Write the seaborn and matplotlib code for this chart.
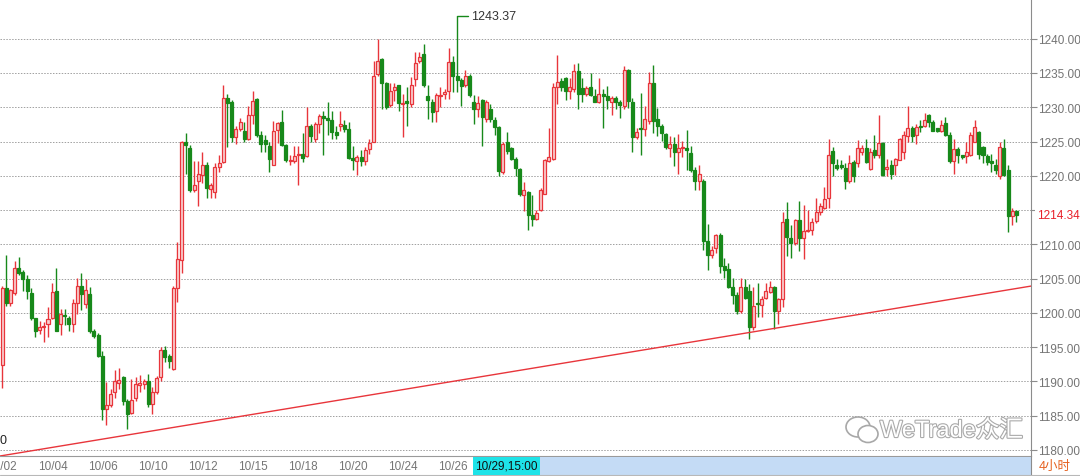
import numpy as np
import pandas as pd
import matplotlib
matplotlib.use("Agg")
import matplotlib.pyplot as plt
import matplotlib.patheffects as pe
from matplotlib.patches import Rectangle, Ellipse
from matplotlib.lines import Line2D
import matplotlib.transforms as mtransforms
import seaborn as sns

sns.set_style("white")
plt.rcParams['font.family'] = ['Liberation Sans', 'Noto Sans CJK SC', 'DejaVu Sans']

# 4h candles
opens = [
    1192.4, 1203.6, 1201.5, 1202.9, 1206.5, 1206.0, 1205.0, 1202.9, 1199.2, 1197.5,
    1197.9, 1198.3, 1199.2, 1203.2, 1198.3, 1199.7, 1199.3, 1198.3, 1201.5, 1203.9,
    1201.3, 1202.8, 1197.3, 1196.8, 1193.7, 1186.0, 1186.5, 1188.4, 1189.7, 1190.7,
    1187.2, 1185.4, 1187.5, 1189.4, 1189.6, 1190.1, 1186.7, 1188.4, 1190.6, 1194.5,
    1193.7, 1191.8, 1203.6, 1207.7, 1224.9, 1224.0, 1217.9, 1219.2, 1220.1, 1221.6,
    1218.0, 1217.7, 1221.3, 1222.0, 1231.3, 1230.8, 1225.6, 1226.8, 1226.6, 1225.4,
    1228.8, 1231.2, 1225.9, 1225.2, 1224.3, 1221.5, 1226.7, 1227.8, 1224.5, 1222.1,
    1222.2, 1223.0, 1223.2, 1222.9, 1227.3, 1225.4, 1227.6, 1228.7, 1228.4, 1228.2,
    1226.4, 1227.3, 1227.4, 1226.8, 1222.6, 1222.1, 1222.7, 1222.1, 1223.9, 1225.0,
    1234.8, 1237.1, 1233.5, 1230.3, 1232.5, 1233.2, 1230.5, 1230.9, 1230.5, 1234.1,
    1236.8, 1237.7, 1231.7, 1230.7, 1229.5, 1231.6, 1231.9, 1232.3, 1236.6, 1234.6,
    1234.0, 1233.2, 1234.6, 1230.7, 1229.8, 1231.0, 1228.3, 1229.8, 1228.2, 1227.1,
    1220.5, 1224.9, 1224.0, 1222.5, 1221.0, 1217.2, 1217.7, 1214.3, 1213.7, 1215.0,
    1217.3, 1222.2, 1222.5, 1233.0, 1233.9, 1234.2, 1232.4, 1232.7, 1235.3, 1232.8,
    1231.9, 1232.9, 1231.6, 1230.8, 1231.9, 1231.6, 1230.7, 1231.4, 1230.8, 1230.2,
    1235.4, 1230.8, 1225.6, 1227.0, 1226.8, 1228.0, 1233.6, 1228.3, 1227.2, 1226.1,
    1224.1, 1224.6, 1223.4, 1224.0, 1224.0, 1223.3, 1220.8, 1219.3, 1219.2, 1210.5,
    1208.4, 1209.5, 1211.4, 1206.8, 1206.4, 1203.8, 1202.6, 1200.3, 1203.7, 1203.2,
    1198.0, 1201.5, 1201.2, 1202.2, 1203.1, 1203.7, 1200.3, 1202.0, 1213.7, 1210.9,
    1210.2, 1213.6, 1210.9, 1211.9, 1212.1, 1213.4, 1214.7, 1215.3, 1216.8, 1223.6,
    1221.6, 1221.5, 1221.2, 1219.2, 1222.0, 1221.8, 1223.5, 1224.1, 1221.0, 1223.7,
    1223.0, 1224.8, 1221.0, 1221.6, 1221.5, 1222.3, 1223.5, 1225.8, 1227.0, 1225.9,
    1227.2, 1227.2, 1228.9, 1227.9, 1226.9, 1226.6, 1227.7, 1226.0, 1222.1, 1223.9,
    1223.0, 1222.9, 1223.0, 1225.0, 1226.4, 1224.2, 1222.9, 1222.1, 1221.6, 1219.9,
    1224.1, 1220.8, 1214.1, 1214.8,
]
highs = [
    1203.9, 1208.4, 1203.5, 1207.6, 1208.2, 1206.2, 1205.5, 1203.6, 1199.3, 1198.8,
    1198.6, 1200.8, 1204.4, 1206.6, 1200.5, 1200.5, 1199.5, 1202.0, 1205.1, 1205.8,
    1204.9, 1203.8, 1197.6, 1197.0, 1194.4, 1189.9, 1188.9, 1191.6, 1192.0, 1190.8,
    1187.4, 1190.4, 1190.7, 1190.9, 1190.3, 1191.0, 1189.1, 1190.8, 1195.0, 1195.1,
    1194.0, 1203.9, 1210.3, 1225.1, 1226.3, 1224.5, 1222.1, 1222.2, 1223.4, 1222.0,
    1219.0, 1221.8, 1223.0, 1233.2, 1231.9, 1231.0, 1227.3, 1228.5, 1227.8, 1230.2,
    1232.4, 1231.4, 1226.6, 1225.9, 1224.9, 1228.0, 1227.8, 1229.6, 1224.7, 1223.0,
    1224.3, 1224.4, 1226.3, 1230.1, 1227.6, 1227.8, 1229.0, 1229.5, 1230.8, 1229.5,
    1227.3, 1229.5, 1228.2, 1227.8, 1224.4, 1223.0, 1223.7, 1224.2, 1225.3, 1236.7,
    1239.9, 1237.2, 1233.7, 1233.5, 1233.6, 1233.3, 1231.9, 1233.0, 1234.4, 1238.0,
    1238.0, 1239.2, 1233.2, 1231.2, 1232.1, 1233.0, 1232.7, 1238.6, 1237.5, 1243.37,
    1234.3, 1235.5, 1234.8, 1231.8, 1231.6, 1231.2, 1231.0, 1230.5, 1228.6, 1227.3,
    1224.9, 1226.4, 1224.2, 1222.7, 1221.2, 1219.1, 1217.8, 1217.2, 1215.0, 1218.2,
    1222.5, 1226.9, 1233.5, 1237.6, 1234.2, 1234.4, 1234.3, 1236.3, 1236.4, 1234.3,
    1233.1, 1235.0, 1232.7, 1234.3, 1232.6, 1233.1, 1231.7, 1231.6, 1231.0, 1236.0,
    1235.6, 1231.4, 1227.0, 1232.1, 1230.2, 1235.1, 1236.2, 1229.9, 1227.5, 1226.3,
    1225.8, 1225.6, 1226.1, 1225.1, 1226.7, 1224.3, 1221.3, 1221.6, 1219.6, 1212.9,
    1209.7, 1211.5, 1211.6, 1208.0, 1207.3, 1205.1, 1203.0, 1205.1, 1205.0, 1204.2,
    1203.7, 1204.3, 1202.5, 1204.3, 1204.6, 1203.9, 1202.2, 1214.7, 1216.1, 1212.8,
    1213.7, 1216.3, 1215.7, 1215.0, 1213.8, 1216.7, 1216.0, 1218.3, 1225.3, 1224.2,
    1222.4, 1222.3, 1221.8, 1223.1, 1222.3, 1225.2, 1224.5, 1225.3, 1224.1, 1225.9,
    1228.8, 1224.9, 1222.5, 1222.3, 1222.6, 1225.5, 1226.5, 1230.2, 1227.2, 1227.6,
    1228.1, 1229.2, 1229.0, 1228.1, 1227.0, 1228.2, 1228.6, 1226.4, 1225.3, 1224.2,
    1223.1, 1224.9, 1226.4, 1228.2, 1226.6, 1224.4, 1223.2, 1223.2, 1222.5, 1225.0,
    1225.3, 1221.5, 1215.3, 1215.0,
]
lows = [
    1189.0, 1201.0, 1201.0, 1202.6, 1205.5, 1203.2, 1202.0, 1199.0, 1196.4, 1196.9,
    1195.7, 1196.5, 1199.1, 1197.3, 1196.8, 1198.2, 1197.4, 1197.2, 1199.8, 1200.4,
    1200.7, 1197.0, 1196.3, 1193.5, 1184.3, 1183.6, 1186.2, 1187.6, 1188.9, 1186.5,
    1183.1, 1185.2, 1187.2, 1188.4, 1188.9, 1186.3, 1185.2, 1188.1, 1190.1, 1192.8,
    1192.0, 1191.6, 1201.6, 1205.8, 1220.3, 1217.6, 1217.6, 1215.6, 1218.9, 1216.7,
    1216.7, 1216.7, 1220.6, 1221.8, 1224.2, 1224.9, 1224.7, 1226.6, 1224.9, 1225.2,
    1227.6, 1225.6, 1223.5, 1223.4, 1220.5, 1221.5, 1224.8, 1224.4, 1222.0, 1221.5,
    1221.8, 1218.6, 1222.0, 1222.8, 1225.0, 1224.9, 1226.3, 1223.0, 1226.0, 1225.4,
    1225.3, 1226.6, 1226.4, 1222.5, 1220.8, 1220.1, 1221.4, 1221.5, 1223.2, 1224.9,
    1234.6, 1229.7, 1229.7, 1230.1, 1230.9, 1229.5, 1225.6, 1227.2, 1230.0, 1233.1,
    1236.5, 1233.0, 1228.3, 1227.9, 1227.9, 1230.0, 1231.2, 1231.2, 1232.2, 1232.2,
    1230.2, 1233.0, 1231.5, 1227.6, 1228.6, 1224.4, 1227.8, 1227.8, 1225.9, 1219.9,
    1220.3, 1223.2, 1222.3, 1219.9, 1217.0, 1214.9, 1212.1, 1212.6, 1213.6, 1214.8,
    1217.3, 1222.0, 1222.3, 1230.5, 1232.4, 1231.0, 1231.2, 1232.2, 1229.8, 1230.7,
    1231.7, 1231.6, 1230.7, 1230.6, 1226.9, 1229.8, 1228.9, 1229.7, 1228.5, 1229.7,
    1229.9, 1223.4, 1225.4, 1223.0, 1225.8, 1227.5, 1226.3, 1225.8, 1225.1, 1223.9,
    1222.7, 1221.4, 1220.2, 1222.7, 1220.8, 1220.5, 1217.9, 1217.9, 1209.2, 1206.3,
    1208.0, 1208.7, 1205.8, 1205.1, 1203.6, 1201.3, 1199.8, 1200.0, 1202.0, 1196.2,
    1197.5, 1199.4, 1199.4, 1202.0, 1202.9, 1197.6, 1198.4, 1200.8, 1208.3, 1208.0,
    1209.9, 1209.0, 1207.9, 1211.8, 1211.4, 1213.1, 1214.3, 1215.2, 1215.3, 1219.9,
    1220.8, 1221.0, 1218.1, 1218.9, 1219.1, 1221.3, 1223.0, 1221.8, 1220.8, 1222.6,
    1222.6, 1220.0, 1219.9, 1219.6, 1220.1, 1222.3, 1222.5, 1224.9, 1224.9, 1224.7,
    1226.4, 1227.1, 1227.1, 1226.5, 1226.4, 1226.4, 1225.8, 1221.8, 1220.2, 1221.8,
    1222.4, 1221.9, 1222.9, 1224.9, 1222.5, 1221.9, 1221.6, 1220.6, 1220.3, 1219.6,
    1220.0, 1211.8, 1212.8, 1213.3,
]
closes = [
    1203.6, 1201.5, 1203.3, 1206.5, 1205.8, 1204.9, 1203.2, 1199.2, 1197.3, 1197.9,
    1198.1, 1199.1, 1203.1, 1197.4, 1199.8, 1199.5, 1198.3, 1201.5, 1203.9, 1202.8,
    1203.3, 1197.3, 1196.6, 1193.7, 1186.0, 1186.5, 1188.2, 1190.1, 1190.2, 1187.2,
    1185.3, 1187.3, 1189.6, 1189.7, 1190.1, 1186.7, 1188.4, 1190.5, 1194.6, 1193.5,
    1193.0, 1203.6, 1207.9, 1224.9, 1224.5, 1217.9, 1218.7, 1220.3, 1221.6, 1218.2,
    1218.6, 1221.3, 1221.8, 1231.4, 1230.6, 1225.6, 1226.8, 1227.9, 1225.4, 1228.8,
    1230.9, 1225.9, 1224.7, 1224.7, 1222.4, 1226.6, 1227.7, 1224.5, 1222.3, 1222.3,
    1222.9, 1223.2, 1222.6, 1227.3, 1225.8, 1227.6, 1228.7, 1228.5, 1228.1, 1226.4,
    1226.0, 1227.6, 1226.8, 1222.6, 1222.3, 1222.7, 1222.1, 1223.7, 1224.8, 1234.6,
    1236.7, 1233.5, 1230.0, 1232.4, 1233.0, 1230.6, 1230.6, 1230.6, 1233.2, 1236.5,
    1237.4, 1233.2, 1231.0, 1229.3, 1231.8, 1231.8, 1232.2, 1236.6, 1234.6, 1234.0,
    1233.1, 1234.6, 1231.8, 1229.8, 1230.6, 1228.6, 1230.8, 1228.3, 1227.1, 1220.7,
    1224.7, 1223.6, 1222.5, 1221.1, 1217.4, 1217.9, 1214.3, 1213.7, 1214.5, 1217.9,
    1222.3, 1222.8, 1232.9, 1233.7, 1232.9, 1232.4, 1232.9, 1235.3, 1231.9, 1231.9,
    1232.8, 1231.8, 1230.8, 1231.9, 1231.6, 1231.0, 1231.4, 1230.8, 1230.4, 1235.4,
    1230.9, 1225.7, 1226.4, 1226.8, 1228.3, 1233.6, 1228.0, 1227.3, 1226.2, 1224.2,
    1224.6, 1223.4, 1224.0, 1224.2, 1223.8, 1220.8, 1219.3, 1220.3, 1210.5, 1208.5,
    1209.1, 1211.3, 1206.8, 1206.3, 1203.7, 1202.6, 1200.3, 1203.7, 1202.1, 1197.9,
    1201.0, 1201.3, 1202.0, 1203.2, 1203.7, 1200.3, 1202.0, 1213.3, 1211.0, 1210.2,
    1213.6, 1210.9, 1212.0, 1212.1, 1213.3, 1214.7, 1215.6, 1216.6, 1223.0, 1221.8,
    1221.2, 1221.3, 1219.2, 1221.9, 1219.9, 1224.1, 1224.0, 1222.0, 1223.5, 1223.1,
    1224.8, 1220.1, 1221.3, 1220.2, 1222.4, 1225.4, 1226.0, 1227.0, 1225.8, 1227.1,
    1227.1, 1228.1, 1227.9, 1226.6, 1226.6, 1227.4, 1226.0, 1222.1, 1223.9, 1223.0,
    1222.8, 1223.4, 1226.0, 1227.1, 1223.2, 1223.0, 1222.0, 1221.8, 1220.8, 1224.2,
    1220.1, 1214.1, 1214.8, 1214.34,
]

tick_idx = [-4, 8, 20, 32, 44, 56, 68, 80, 92, 104, 128, 140, 152, 164, 176, 188, 200, 212, 224, 236]
tick_labels = ["10/02", "10/04", "10/06", "10/10", "10/12", "10/15", "10/18", "10/20", "10/24", "10/26",
               "11/01", "11/03", "11/07", "11/09", "11/13", "11/15", "11/17", "11/21", "11/23", "11/27"]
price_ticks = [1180, 1185, 1190, 1195, 1200, 1205, 1210, 1215, 1220, 1225, 1230, 1235, 1240]

trend_x = [-0.5, 246.5]
trend_y = [1179.1, 1203.9]
last_price = 1214.34
peak_idx = 109
peak_price = 1243.37
cursor_label = "10/29,15:00"
period_label = "4小时"

df = pd.DataFrame({"open": opens, "high": highs, "low": lows, "close": closes})
df["idx"] = np.arange(len(df))
df["up"] = df["close"] >= df["open"]

UP = "#e8353b"
DOWN = "#17891a"
W, H = 1080, 477

fig = plt.figure(figsize=(W / 100, H / 100), dpi=100)
ax = fig.add_axes([0, 20 / H, 1031 / W, 457 / H])

# trend line
sns.lineplot(x=trend_x, y=trend_y, ax=ax, color="#e8353b", linewidth=1.0, zorder=4)

# wicks and bodies
wick_cols = np.where(df["up"], UP, DOWN)
ax.vlines(df["idx"], df["low"], df["high"], colors=wick_cols, linewidth=1.0, zorder=2)
body_lo = df[["open", "close"]].min(axis=1)
body_h = (df["close"] - df["open"]).abs().clip(lower=0.12)
ax.bar(df["idx"], body_h, bottom=body_lo, width=0.72,
       color=np.where(df["up"], "#f9cfcf", DOWN),
       edgecolor=wick_cols, linewidth=0.9, zorder=3)

ax.set_xlim(-0.5, 246.5)
ax.set_ylim(1179.1, 1245.8)

# grid + right price axis
ax.set_yticks(price_ticks)
ax.set_yticklabels([f"{v:.2f}" for v in price_ticks])
ax.yaxis.tick_right()
ax.yaxis.grid(True, linestyle=(0, (1.5, 1.5)), color="#a0a0a0", linewidth=0.7)
ax.xaxis.grid(False)
ax.tick_params(axis="y", direction="out", length=4, width=0.8, color="#8c8c8c",
               labelcolor="#747474", labelsize=8.5, pad=1)
for s in ["top", "left"]:
    ax.spines[s].set_visible(False)
ax.spines["right"].set_color("#8c8c8c")
ax.spines["bottom"].set_color("#9a9a9a")

# x axis band
ax.set_xticks([t for t in tick_idx if t >= 0])
ax.set_xticklabels([])
ax.tick_params(axis="x", direction="out", length=4, width=0.8, color="#8c8c8c", pad=0)
band = mtransforms.blended_transform_factory(ax.transData, fig.transFigure)
fig.patches.append(Rectangle((540 / W, 0), 491 / W, 19 / H, transform=fig.transFigure,
                             facecolor="#c4dbf5", edgecolor="none", zorder=0))
for t, lab in zip(tick_idx, tick_labels):
    ax.text(t + 0.5, 9.5 / H, lab, transform=band, ha="left", va="center",
            fontsize=8.5, color="#757575", clip_on=False)
fig.patches.append(Rectangle((473 / W, 1 / H), 67 / W, 18 / H, transform=fig.transFigure,
                             facecolor="#1ee3e8", edgecolor="none", zorder=5))
fig.text(506 / W, 10 / H, cursor_label, ha="center", va="center", fontsize=8.5, color="#111111", zorder=6)
fig.lines.append(Line2D([1031 / W, 1031 / W], [0, 20 / H], transform=fig.transFigure, color="#8c8c8c", lw=0.8))
fig.lines.append(Line2D([0, 1], [0.6 / H, 0.6 / H], transform=fig.transFigure, color="#b8b8b8", lw=0.8))
fig.text(1055 / W, 10 / H, period_label, ha="center", va="center", fontsize=9, color="#e5601e")

# current price label (sits over the 1215.00 tick label, as in the terminal)
ax.text(1.0055, last_price, f"{last_price:.2f}", transform=mtransforms.blended_transform_factory(ax.transAxes, ax.transData),
        ha="left", va="center", fontsize=8.5, color="#e8202a", clip_on=False, zorder=10,
        bbox=dict(facecolor="white", edgecolor="none", pad=1.0))

# peak marker
ax.plot([peak_idx, peak_idx + 2.6], [peak_price, peak_price], color="#17891a", lw=1.0, zorder=5)
ax.text(peak_idx + 3.3, peak_price, f"{peak_price:.2f}", ha="left", va="center", fontsize=9, color="#333333")

# cut-off label at the left
fig.text(0.0, 1 - 441 / H, "0", ha="left", va="center", fontsize=9, color="#222222")

# watermark
fig.text(880 / W, 1 - 432 / H, "WeTrade众汇", ha="left", va="center", fontsize=17, color="white",
         path_effects=[pe.withStroke(linewidth=1.6, foreground="#aaaaaa")], zorder=8)
for cx, cy, ew, eh in [(858, 428, 24, 20), (868, 435, 20, 17)]:
    fig.patches.append(Ellipse((cx / W, 1 - cy / H), ew / W, eh / H, transform=fig.transFigure,
                               facecolor="white", edgecolor="#a8a8a8", linewidth=1.2, zorder=8))

fig.savefig("out.png", dpi=100)
